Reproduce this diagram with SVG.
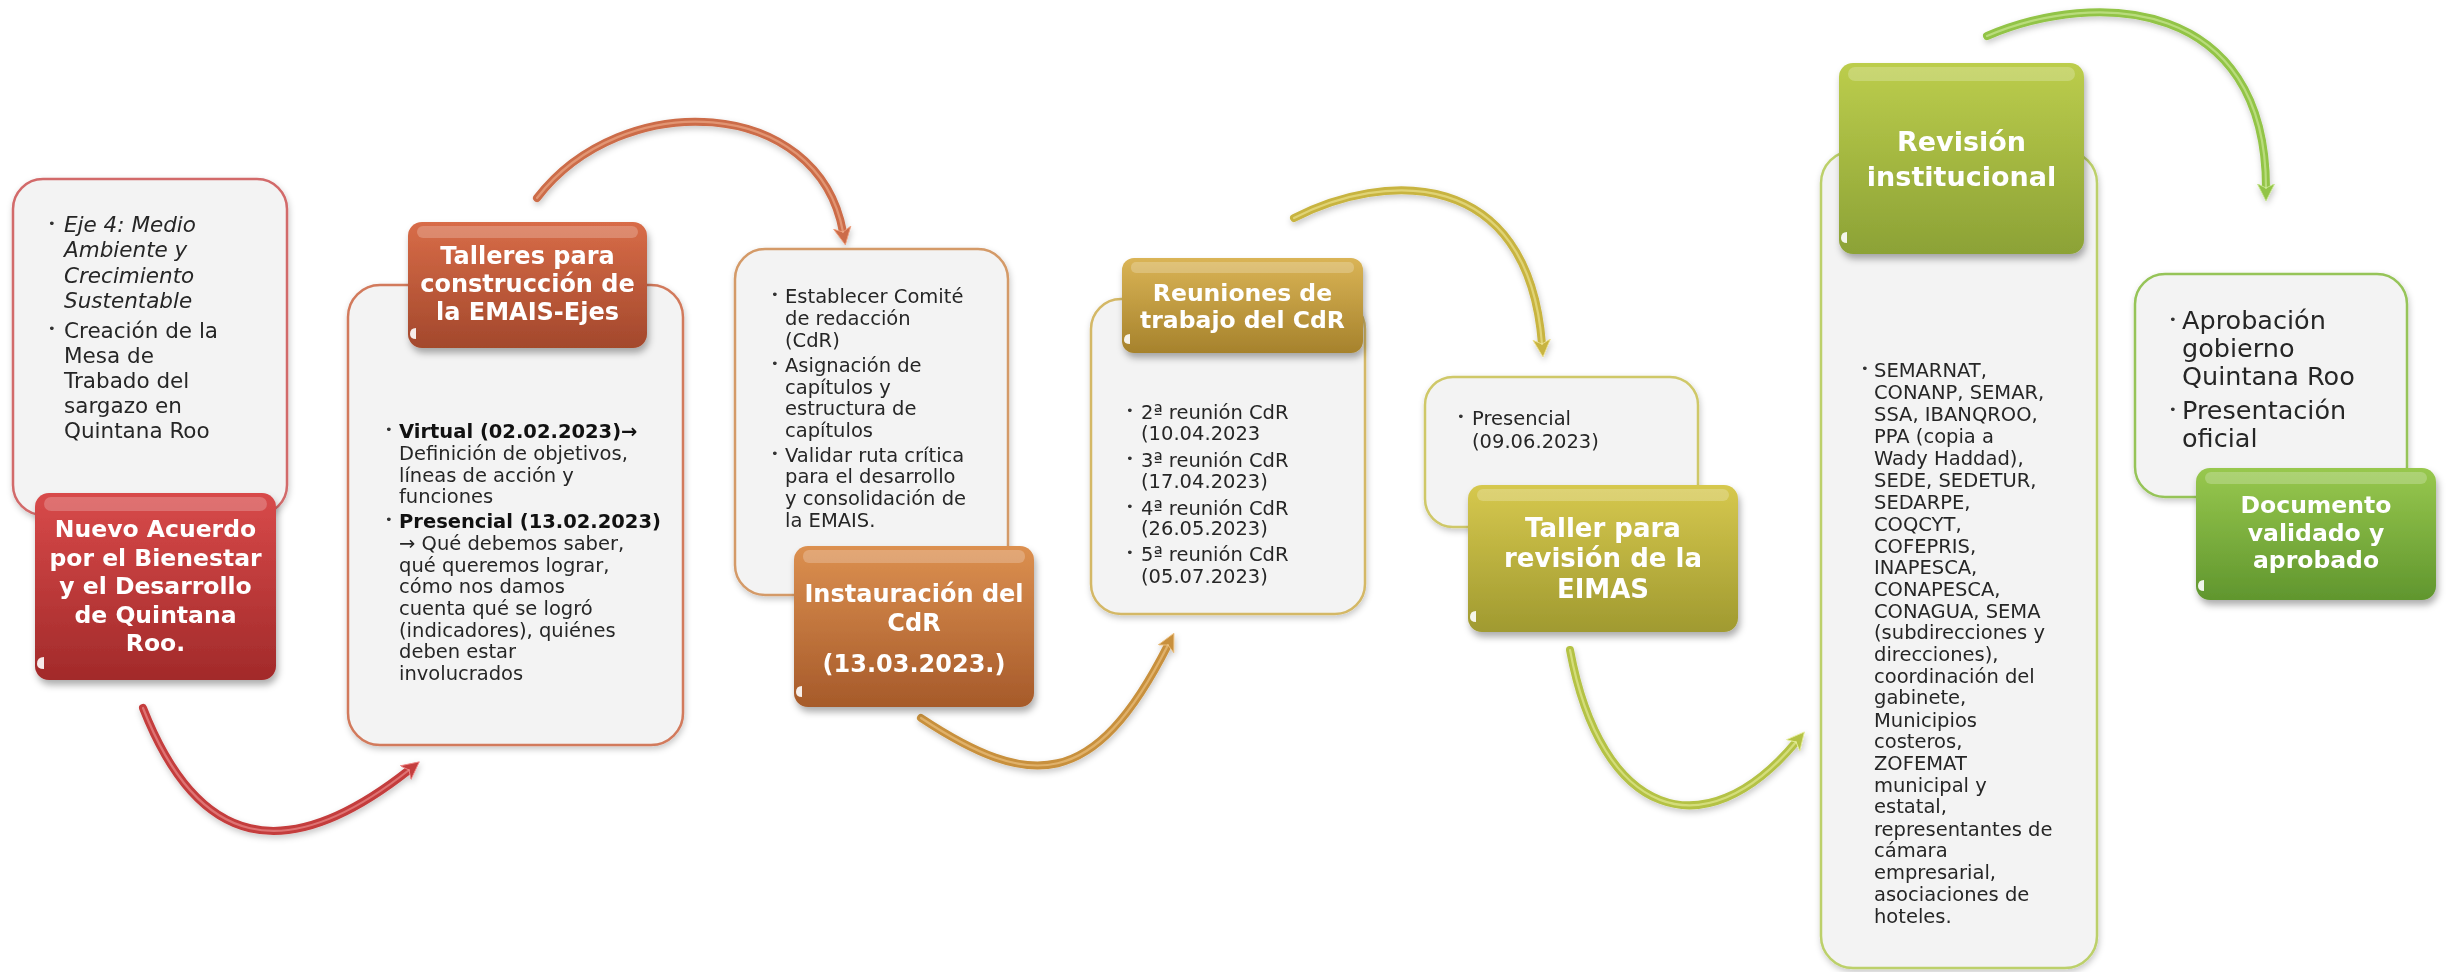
<svg xmlns="http://www.w3.org/2000/svg" width="2451" height="972" viewBox="0 0 2451 972">
<style>
.body{font-family:"DejaVu Sans","Noto Sans",sans-serif;font-size:19.5px;fill:#262626}
.big{font-size:21.5px}
.apr{font-size:25.5px}
.b{font-weight:bold;fill:#111}
.it{font-style:italic}
.bul{font-family:"DejaVu Sans",sans-serif;font-size:13px;fill:#333}
.head{font-family:"DejaVu Sans","Noto Sans",sans-serif;font-weight:bold;fill:#fff;text-anchor:middle}
.card{fill:#f3f3f3;stroke-width:2.5}
.hl{fill:#fff;opacity:0.22}
.mark{fill:#fff;opacity:0.9}
.arr{fill:none;stroke-width:8;stroke-linecap:round}
.arrh{fill:none;stroke-width:2.2;stroke-linecap:round;opacity:0.55}
</style>
<defs>
<filter id="sh" x="-15%" y="-15%" width="135%" height="140%"><feDropShadow dx="2" dy="5" stdDeviation="3.5" flood-color="#000" flood-opacity="0.32"/></filter>
<filter id="shl" x="-10%" y="-10%" width="125%" height="125%"><feDropShadow dx="1" dy="3" stdDeviation="3" flood-color="#000" flood-opacity="0.22"/></filter>
<linearGradient id="gRed" x1="0" y1="0" x2="0" y2="1"><stop offset="0" stop-color="#d84a4a"/><stop offset="1" stop-color="#a22a2a"/></linearGradient>
<linearGradient id="gOr" x1="0" y1="0" x2="0" y2="1"><stop offset="0" stop-color="#d86c48"/><stop offset="1" stop-color="#a3482c"/></linearGradient>
<linearGradient id="gBr" x1="0" y1="0" x2="0" y2="1"><stop offset="0" stop-color="#dc9050"/><stop offset="1" stop-color="#a65a2a"/></linearGradient>
<linearGradient id="gGo" x1="0" y1="0" x2="0" y2="1"><stop offset="0" stop-color="#dab456"/><stop offset="1" stop-color="#a6822c"/></linearGradient>
<linearGradient id="gOl" x1="0" y1="0" x2="0" y2="1"><stop offset="0" stop-color="#d6c84e"/><stop offset="1" stop-color="#a09a30"/></linearGradient>
<linearGradient id="gLi" x1="0" y1="0" x2="0" y2="1"><stop offset="0" stop-color="#bccd4c"/><stop offset="1" stop-color="#8ca236"/></linearGradient>
<linearGradient id="gGr" x1="0" y1="0" x2="0" y2="1"><stop offset="0" stop-color="#98c84e"/><stop offset="1" stop-color="#60962e"/></linearGradient>
<marker id="mRed" markerUnits="userSpaceOnUse" markerWidth="21" markerHeight="21" viewBox="0 0 24 24" refX="5" refY="12" orient="auto"><path d="M0,2 L20,12 L0,22 L5,12 z" fill="#c43c3c" stroke="#e88" stroke-width="1"/></marker>
<marker id="mOr" markerUnits="userSpaceOnUse" markerWidth="21" markerHeight="21" viewBox="0 0 24 24" refX="5" refY="12" orient="auto"><path d="M0,2 L20,12 L0,22 L5,12 z" fill="#cc6c48" stroke="#eea080" stroke-width="1"/></marker>
<marker id="mBr" markerUnits="userSpaceOnUse" markerWidth="21" markerHeight="21" viewBox="0 0 24 24" refX="5" refY="12" orient="auto"><path d="M0,2 L20,12 L0,22 L5,12 z" fill="#c8903c" stroke="#ecc080" stroke-width="1"/></marker>
<marker id="mGo" markerUnits="userSpaceOnUse" markerWidth="21" markerHeight="21" viewBox="0 0 24 24" refX="5" refY="12" orient="auto"><path d="M0,2 L20,12 L0,22 L5,12 z" fill="#c8b440" stroke="#ece090" stroke-width="1"/></marker>
<marker id="mOl" markerUnits="userSpaceOnUse" markerWidth="21" markerHeight="21" viewBox="0 0 24 24" refX="5" refY="12" orient="auto"><path d="M0,2 L20,12 L0,22 L5,12 z" fill="#b4c244" stroke="#e4ec98" stroke-width="1"/></marker>
<marker id="mGr" markerUnits="userSpaceOnUse" markerWidth="21" markerHeight="21" viewBox="0 0 24 24" refX="5" refY="12" orient="auto"><path d="M0,2 L20,12 L0,22 L5,12 z" fill="#92c446" stroke="#cce898" stroke-width="1"/></marker>
</defs>
<rect width="2451" height="972" fill="#ffffff"/>

<g id="connectors" filter="url(#shl)">
<path class="arr" d="M143,708 C198,848 285,868 409,770" stroke="#c43c3c" marker-end="url(#mRed)"/>
<path class="arrh" d="M143,708 C198,848 285,868 409,770" stroke="#f4a0a0"/>
<path class="arr" d="M537,198 C622,87 818,96 843,232" stroke="#cc6c48" marker-end="url(#mOr)"/>
<path class="arrh" d="M537,198 C622,87 818,96 843,232" stroke="#f4b898"/>
<path class="arr" d="M921,718 C1030,790 1094,791 1168,645" stroke="#c8903c" marker-end="url(#mBr)"/>
<path class="arrh" d="M921,718 C1030,790 1094,791 1168,645" stroke="#f4cc90"/>
<path class="arr" d="M1294,218 C1383,172 1528,165 1542,344" stroke="#c8b440" marker-end="url(#mGo)"/>
<path class="arrh" d="M1294,218 C1383,172 1528,165 1542,344" stroke="#f4eca0"/>
<path class="arr" d="M1570,650 C1601,817 1704,852 1796,742" stroke="#b4c244" marker-end="url(#mOl)"/>
<path class="arrh" d="M1570,650 C1601,817 1704,852 1796,742" stroke="#eef4a8"/>
<path class="arr" d="M1987,36 C2097,-11 2266,-1 2266,188" stroke="#92c446" marker-end="url(#mGr)"/>
<path class="arrh" d="M1987,36 C2097,-11 2266,-1 2266,188" stroke="#d8f0a8"/>
</g>

<g id="node-nuevo-acuerdo">
<rect class="card" x="13" y="179" width="274" height="336" rx="30" stroke="#d26a6a" filter="url(#shl)"/>
<text class="bul" x="48" y="228">•</text>
<text class="body big it" x="64" y="232">Eje 4: Medio</text>
<text class="body big it" x="64" y="257">Ambiente y</text>
<text class="body big it" x="64" y="283">Crecimiento</text>
<text class="body big it" x="64" y="308">Sustentable</text>
<text class="bul" x="48" y="333">•</text>
<text class="body big" x="64" y="338">Creación de la</text>
<text class="body big" x="64" y="363">Mesa de</text>
<text class="body big" x="64" y="388">Trabado del</text>
<text class="body big" x="64" y="413">sargazo en</text>
<text class="body big" x="64" y="438">Quintana Roo</text>
<g filter="url(#sh)">
<rect x="35" y="493" width="241" height="187" rx="14" fill="url(#gRed)"/>
<rect class="hl" x="44" y="497" width="223" height="14" rx="7"/>
<path class="mark" d="M37,664 q0,-7 7,-7 l0,12 q-7,0 -7,-5 z"/>
</g>
<text class="head" font-size="23.5" x="155.5" y="537">Nuevo Acuerdo</text>
<text class="head" font-size="23.5" x="155.5" y="566">por el Bienestar</text>
<text class="head" font-size="23.5" x="155.5" y="594">y el Desarrollo</text>
<text class="head" font-size="23.5" x="155.5" y="623">de Quintana</text>
<text class="head" font-size="23.5" x="155.5" y="651">Roo.</text>
</g>

<g id="node-talleres">
<rect class="card" x="348" y="285" width="335" height="460" rx="32" stroke="#d27a5c" filter="url(#shl)"/>
<text class="bul" x="385" y="434">•</text>
<text class="body b" font-size="17.5" x="399" y="438">Virtual (02.02.2023)→</text>
<text class="body" x="399" y="460">Definición de objetivos,</text>
<text class="body" x="399" y="482">líneas de acción y</text>
<text class="body" x="399" y="503">funciones</text>
<text class="bul" x="385" y="524">•</text>
<text class="body b" font-size="17.5" x="399" y="528">Presencial (13.02.2023)</text>
<text class="body" x="399" y="550">→ Qué debemos saber,</text>
<text class="body" x="399" y="572">qué queremos lograr,</text>
<text class="body" x="399" y="593">cómo nos damos</text>
<text class="body" x="399" y="615">cuenta qué se logró</text>
<text class="body" x="399" y="637">(indicadores), quiénes</text>
<text class="body" x="399" y="658">deben estar</text>
<text class="body" x="399" y="680">involucrados</text>
<g filter="url(#sh)">
<rect x="408" y="222" width="239" height="126" rx="14" fill="url(#gOr)"/>
<rect class="hl" x="417" y="226" width="221" height="12" rx="6"/>
<path class="mark" d="M410,334 q0,-6 6,-6 l0,11 q-6,0 -6,-5 z"/>
</g>
<text class="head" font-size="24" x="527.5" y="264">Talleres para</text>
<text class="head" font-size="24" x="527.5" y="292">construcción de</text>
<text class="head" font-size="24" x="527.5" y="320">la EMAIS-Ejes</text>
</g>

<g id="node-instauracion">
<rect class="card" x="735" y="249" width="273" height="346" rx="30" stroke="#d49a68" filter="url(#shl)"/>
<text class="bul" x="771" y="299">•</text>
<text class="body" x="785" y="303">Establecer Comité</text>
<text class="body" x="785" y="325">de redacción</text>
<text class="body" x="785" y="347">(CdR)</text>
<text class="bul" x="771" y="368">•</text>
<text class="body" x="785" y="372">Asignación de</text>
<text class="body" x="785" y="394">capítulos y</text>
<text class="body" x="785" y="415">estructura de</text>
<text class="body" x="785" y="437">capítulos</text>
<text class="bul" x="771" y="458">•</text>
<text class="body" x="785" y="462">Validar ruta crítica</text>
<text class="body" x="785" y="483">para el desarrollo</text>
<text class="body" x="785" y="505">y consolidación de</text>
<text class="body" x="785" y="527">la EMAIS.</text>
<g filter="url(#sh)">
<rect x="794" y="546" width="240" height="161" rx="14" fill="url(#gBr)"/>
<rect class="hl" x="803" y="550" width="222" height="13" rx="6"/>
<path class="mark" d="M796,692 q0,-6 6,-6 l0,11 q-6,0 -6,-5 z"/>
</g>
<text class="head" font-size="24" x="914" y="602">Instauración del</text>
<text class="head" font-size="24" x="914" y="631">CdR</text>
<text class="head" font-size="24" x="914" y="672">(13.03.2023.)</text>
</g>

<g id="node-reuniones">
<rect class="card" x="1091" y="299" width="274" height="315" rx="30" stroke="#d4b866" filter="url(#shl)"/>
<text class="bul" x="1126" y="415">•</text>
<text class="body" x="1141" y="419">2ª reunión CdR</text>
<text class="body" x="1141" y="440">(10.04.2023</text>
<text class="bul" x="1126" y="463">•</text>
<text class="body" x="1141" y="467">3ª reunión CdR</text>
<text class="body" x="1141" y="488">(17.04.2023)</text>
<text class="bul" x="1126" y="511">•</text>
<text class="body" x="1141" y="515">4ª reunión CdR</text>
<text class="body" x="1141" y="535">(26.05.2023)</text>
<text class="bul" x="1126" y="557">•</text>
<text class="body" x="1141" y="561">5ª reunión CdR</text>
<text class="body" x="1141" y="583">(05.07.2023)</text>
<g filter="url(#sh)">
<rect x="1122" y="258" width="241" height="95" rx="12" fill="url(#gGo)"/>
<rect class="hl" x="1131" y="262" width="223" height="11" rx="5"/>
<path class="mark" d="M1124,340 q0,-6 6,-6 l0,10 q-6,0 -6,-4 z"/>
</g>
<text class="head" font-size="23.5" x="1242.5" y="301">Reuniones de</text>
<text class="head" font-size="23.5" x="1242.5" y="328">trabajo del CdR</text>
</g>

<g id="node-taller">
<rect class="card" x="1425" y="377" width="273" height="150" rx="28" stroke="#cfc868" filter="url(#shl)"/>
<text class="bul" x="1457" y="421">•</text>
<text class="body" x="1472" y="425">Presencial</text>
<text class="body" x="1472" y="448">(09.06.2023)</text>
<g filter="url(#sh)">
<rect x="1468" y="485" width="270" height="147" rx="14" fill="url(#gOl)"/>
<rect class="hl" x="1477" y="489" width="252" height="12" rx="6"/>
<path class="mark" d="M1470,617 q0,-6 6,-6 l0,11 q-6,0 -6,-5 z"/>
</g>
<text class="head" font-size="26" x="1603" y="537">Taller para</text>
<text class="head" font-size="26" x="1603" y="567">revisión de la</text>
<text class="head" font-size="26" x="1603" y="598">EIMAS</text>
</g>

<g id="node-revision">
<rect class="card" x="1821" y="151" width="276" height="817" rx="32" stroke="#bcd06a" filter="url(#shl)"/>
<text class="bul" x="1861" y="373">•</text>
<text class="body" x="1874" y="377">SEMARNAT,</text>
<text class="body" x="1874" y="399">CONANP, SEMAR,</text>
<text class="body" x="1874" y="421">SSA, IBANQROO,</text>
<text class="body" x="1874" y="443">PPA (copia a</text>
<text class="body" x="1874" y="465">Wady Haddad),</text>
<text class="body" x="1874" y="487">SEDE, SEDETUR,</text>
<text class="body" x="1874" y="509">SEDARPE,</text>
<text class="body" x="1874" y="531">COQCYT,</text>
<text class="body" x="1874" y="553">COFEPRIS,</text>
<text class="body" x="1874" y="574">INAPESCA,</text>
<text class="body" x="1874" y="596">CONAPESCA,</text>
<text class="body" x="1874" y="618">CONAGUA, SEMA</text>
<text class="body" x="1874" y="639">(subdirecciones y</text>
<text class="body" x="1874" y="661">direcciones),</text>
<text class="body" x="1874" y="683">coordinación del</text>
<text class="body" x="1874" y="704">gabinete,</text>
<text class="body" x="1874" y="727">Municipios</text>
<text class="body" x="1874" y="748">costeros,</text>
<text class="body" x="1874" y="770">ZOFEMAT</text>
<text class="body" x="1874" y="792">municipal y</text>
<text class="body" x="1874" y="813">estatal,</text>
<text class="body" x="1874" y="836">representantes de</text>
<text class="body" x="1874" y="857">cámara</text>
<text class="body" x="1874" y="879">empresarial,</text>
<text class="body" x="1874" y="901">asociaciones de</text>
<text class="body" x="1874" y="923">hoteles.</text>
<g filter="url(#sh)">
<rect x="1839" y="63" width="245" height="191" rx="14" fill="url(#gLi)"/>
<rect class="hl" x="1848" y="67" width="227" height="14" rx="7"/>
<path class="mark" d="M1841,238 q0,-6 6,-6 l0,11 q-6,0 -6,-5 z"/>
</g>
<text class="head" font-size="27" x="1961.5" y="151">Revisión</text>
<text class="head" font-size="27" x="1961.5" y="186">institucional</text>
</g>

<g id="node-documento">
<rect class="card" x="2135" y="274" width="272" height="223" rx="30" stroke="#96c458" filter="url(#shl)"/>
<text class="bul" x="2169" y="324">•</text>
<text class="body apr" x="2182" y="329">Aprobación</text>
<text class="body apr" x="2182" y="357">gobierno</text>
<text class="body apr" x="2182" y="385">Quintana Roo</text>
<text class="bul" x="2169" y="414">•</text>
<text class="body apr" x="2182" y="419">Presentación</text>
<text class="body apr" x="2182" y="447">oficial</text>
<g filter="url(#sh)">
<rect x="2196" y="468" width="240" height="132" rx="14" fill="url(#gGr)"/>
<rect class="hl" x="2205" y="472" width="222" height="12" rx="6"/>
<path class="mark" d="M2198,586 q0,-6 6,-6 l0,11 q-6,0 -6,-5 z"/>
</g>
<text class="head" font-size="23.5" x="2316" y="513">Documento</text>
<text class="head" font-size="23.5" x="2316" y="541">validado y</text>
<text class="head" font-size="23.5" x="2316" y="568">aprobado</text>
</g>
</svg>
